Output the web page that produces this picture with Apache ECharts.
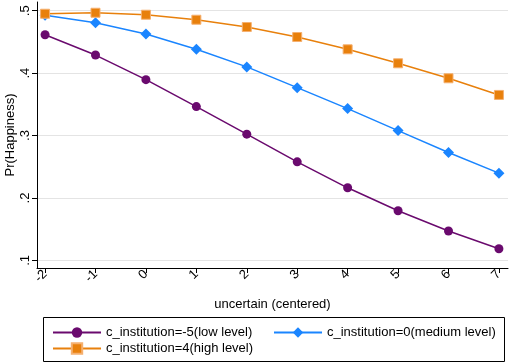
<!DOCTYPE html>
<html><head><meta charset="utf-8">
<script src="https://cdn.jsdelivr.net/npm/echarts@6/dist/echarts.min.js"></script>
<style>html,body{margin:0;padding:0;background:#fff}#c{width:510px;height:363px}</style>
</head><body><div id="c"></div>
<script>
const xValues = [-2,-1,0,1,2,3,4,5,6,7];
const lowLevel = [0.4616,0.429,0.3896,0.3464,0.3022,0.2579,0.2163,0.1795,0.147,0.1187];
const mediumLevel = [0.4926,0.4808,0.4627,0.4382,0.41,0.3768,0.3432,0.308,0.2728,0.2398];
const highLevel = [0.4952,0.4968,0.4936,0.4856,0.4739,0.4579,0.4382,0.4158,0.3918,0.3651];
const yTicks = [0.1,0.2,0.3,0.4,0.5];
const seriesNames = ['c_institution=-5(low level)','c_institution=0(medium level)','c_institution=4(high level)'];

const font = 'Liberation Sans, Arial, sans-serif';
const fs = 13;
const chart = echarts.init(document.getElementById('c'));
const mk = (vals) => xValues.map((x,i)=>[x, vals[i]]);
chart.setOption({
  animation:false,
  textStyle:{fontFamily:font},
  grid:{left:37,right:2,top:2,bottom:95,outerBoundsMode:'none',containLabel:false},
  xAxis:{type:'value',min:-2.16,max:7.18,
    name:'uncertain (centered)',nameLocation:'middle',nameGap:30,nameMoveOverlap:false,
    nameTextStyle:{color:'#000',fontSize:fs,fontFamily:font},
    axisLine:{onZero:false,lineStyle:{color:'#000',width:1}},
    axisTick:{show:true,length:5,lineStyle:{color:'#000'},customValues:xValues},
    axisLabel:{color:'#000',fontSize:fs,rotate:45,margin:4,customValues:xValues,fontFamily:font},
    splitLine:{show:false}},
  yAxis:{type:'value',min:0.0878,max:0.514,
    name:'Pr(Happiness)',nameLocation:'middle',nameGap:20,nameMoveOverlap:false,
    nameTextStyle:{color:'#000',fontSize:fs,fontFamily:font},
    axisLine:{show:true,onZero:false,lineStyle:{color:'#000',width:1}},
    axisTick:{show:true,length:5,lineStyle:{color:'#000'},customValues:yTicks},
    axisLabel:{color:'#000',fontSize:fs,rotate:90,margin:5,customValues:yTicks,fontFamily:font,
      formatter:v=>v.toFixed(1).replace(/^0\./,'.')},
    splitLine:{show:true,lineStyle:{color:'#e4e4e4',width:1}}},
  legend:[
    {data:[seriesNames[0],seriesNames[2]],orient:'vertical',left:47,top:321,itemWidth:48,itemHeight:13,itemGap:3,
     textStyle:{color:'#000',fontSize:fs,fontFamily:font},selectedMode:false},
    {data:[seriesNames[1]],orient:'vertical',left:268,top:321,itemWidth:48,itemHeight:13,
     textStyle:{color:'#000',fontSize:fs,fontFamily:font},selectedMode:false}
  ],
  graphic:[{type:'rect',left:41,top:315,shape:{width:461,height:44},style:{fill:'none',stroke:'#000',lineWidth:1}}],
  series:[
    {name:seriesNames[0],type:'line',data:mk(lowLevel),symbol:'circle',symbolSize:9,
     lineStyle:{color:'#6a0a6e',width:1.5},itemStyle:{color:'#6a0a6e'}},
    {name:seriesNames[1],type:'line',data:mk(mediumLevel),symbol:'diamond',symbolSize:11,
     lineStyle:{color:'#1a85ff',width:1.5},itemStyle:{color:'#1a85ff'}},
    {name:seriesNames[2],type:'line',data:mk(highLevel),symbol:'rect',symbolSize:9,
     lineStyle:{color:'#e8800c',width:1.5},itemStyle:{color:'#e8800c',borderColor:'#f5b070',borderWidth:1}}
  ]
});
</script></body></html>
